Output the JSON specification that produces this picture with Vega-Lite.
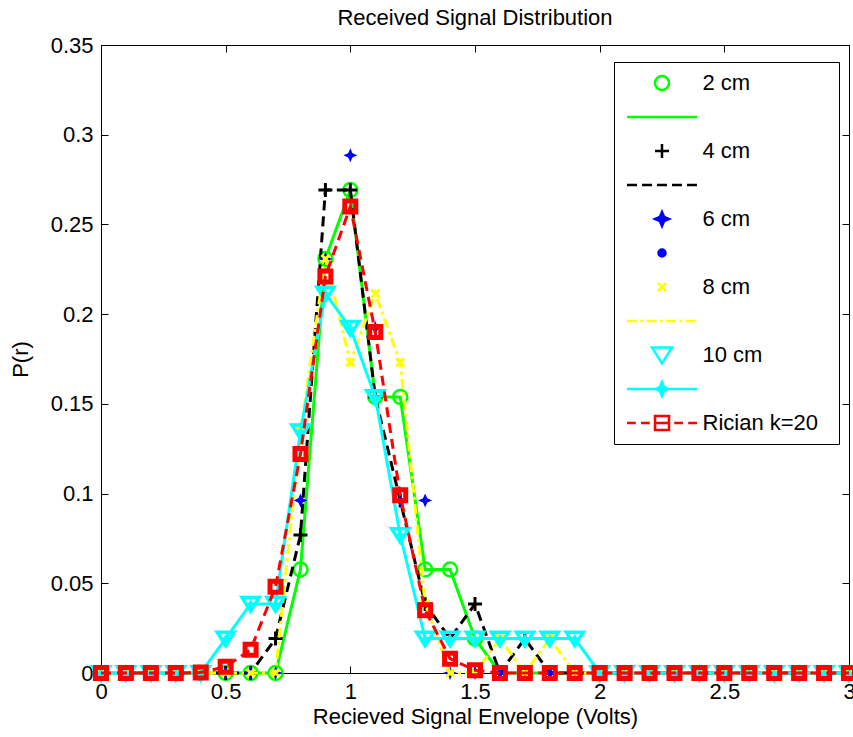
{
"$schema": "https://vega.github.io/schema/vega-lite/v6.json",
"width": 748, "height": 628,
"autosize": {"type": "none"},
"padding": {"left": 101, "top": 45, "right": 4, "bottom": 64},
"background": "white",
"title": {"text": "Received Signal Distribution", "fontSize": 22, "font": "Liberation Sans", "fontWeight": "normal", "color": "black", "offset": 4},
"config": {
  "view": {"stroke": "black", "strokeWidth": 1},
  "axis": {"grid": false, "labelFont": "Liberation Sans", "labelFontSize": 22, "labelColor": "black", "titleFont": "Liberation Sans", "titleFontSize": 22, "titleFontWeight": "normal", "titleColor": "black", "domainColor": "black", "tickColor": "black", "domainWidth": 1, "tickWidth": 1}
},
"data": {"values": [
{"s":"2 cm","x":0,"y":0},{"s":"2 cm","x":0.1,"y":0},{"s":"2 cm","x":0.2,"y":0},{"s":"2 cm","x":0.3,"y":0},{"s":"2 cm","x":0.4,"y":0},{"s":"2 cm","x":0.5,"y":0},{"s":"2 cm","x":0.6,"y":0},{"s":"2 cm","x":0.7,"y":0},{"s":"2 cm","x":0.8,"y":0.0577},{"s":"2 cm","x":0.9,"y":0.2308},{"s":"2 cm","x":1,"y":0.2692},{"s":"2 cm","x":1.1,"y":0.1538},{"s":"2 cm","x":1.2,"y":0.1538},{"s":"2 cm","x":1.3,"y":0.0577},{"s":"2 cm","x":1.4,"y":0.0577},{"s":"2 cm","x":1.5,"y":0.0192},{"s":"2 cm","x":1.6,"y":0},{"s":"2 cm","x":1.7,"y":0},{"s":"2 cm","x":1.8,"y":0},{"s":"2 cm","x":1.9,"y":0},{"s":"2 cm","x":2,"y":0},{"s":"2 cm","x":2.1,"y":0},{"s":"2 cm","x":2.2,"y":0},{"s":"2 cm","x":2.3,"y":0},{"s":"2 cm","x":2.4,"y":0},{"s":"2 cm","x":2.5,"y":0},{"s":"2 cm","x":2.6,"y":0},{"s":"2 cm","x":2.7,"y":0},{"s":"2 cm","x":2.8,"y":0},{"s":"2 cm","x":2.9,"y":0},{"s":"2 cm","x":3,"y":0},
{"s":"4 cm","x":0,"y":0},{"s":"4 cm","x":0.1,"y":0},{"s":"4 cm","x":0.2,"y":0},{"s":"4 cm","x":0.3,"y":0},{"s":"4 cm","x":0.4,"y":0},{"s":"4 cm","x":0.5,"y":0},{"s":"4 cm","x":0.6,"y":0},{"s":"4 cm","x":0.7,"y":0.0192},{"s":"4 cm","x":0.8,"y":0.0769},{"s":"4 cm","x":0.9,"y":0.2692},{"s":"4 cm","x":1,"y":0.2692},{"s":"4 cm","x":1.1,"y":0.1538},{"s":"4 cm","x":1.2,"y":0.0962},{"s":"4 cm","x":1.3,"y":0.0385},{"s":"4 cm","x":1.4,"y":0.0192},{"s":"4 cm","x":1.5,"y":0.0385},{"s":"4 cm","x":1.6,"y":0},{"s":"4 cm","x":1.7,"y":0.0192},{"s":"4 cm","x":1.8,"y":0},{"s":"4 cm","x":1.9,"y":0},{"s":"4 cm","x":2,"y":0},{"s":"4 cm","x":2.1,"y":0},{"s":"4 cm","x":2.2,"y":0},{"s":"4 cm","x":2.3,"y":0},{"s":"4 cm","x":2.4,"y":0},{"s":"4 cm","x":2.5,"y":0},{"s":"4 cm","x":2.6,"y":0},{"s":"4 cm","x":2.7,"y":0},{"s":"4 cm","x":2.8,"y":0},{"s":"4 cm","x":2.9,"y":0},{"s":"4 cm","x":3,"y":0},
{"s":"6 cm","x":0,"y":0},{"s":"6 cm","x":0.1,"y":0},{"s":"6 cm","x":0.2,"y":0},{"s":"6 cm","x":0.3,"y":0},{"s":"6 cm","x":0.4,"y":0},{"s":"6 cm","x":0.5,"y":0},{"s":"6 cm","x":0.6,"y":0},{"s":"6 cm","x":0.7,"y":0},{"s":"6 cm","x":0.8,"y":0.0962},{"s":"6 cm","x":0.9,"y":0.2308},{"s":"6 cm","x":1,"y":0.2885},{"s":"6 cm","x":1.1,"y":0.1923},{"s":"6 cm","x":1.2,"y":0.0962},{"s":"6 cm","x":1.3,"y":0.0962},{"s":"6 cm","x":1.4,"y":0},{"s":"6 cm","x":1.5,"y":0},{"s":"6 cm","x":1.6,"y":0},{"s":"6 cm","x":1.7,"y":0},{"s":"6 cm","x":1.8,"y":0},{"s":"6 cm","x":1.9,"y":0},{"s":"6 cm","x":2,"y":0},{"s":"6 cm","x":2.1,"y":0},{"s":"6 cm","x":2.2,"y":0},{"s":"6 cm","x":2.3,"y":0},{"s":"6 cm","x":2.4,"y":0},{"s":"6 cm","x":2.5,"y":0},{"s":"6 cm","x":2.6,"y":0},{"s":"6 cm","x":2.7,"y":0},{"s":"6 cm","x":2.8,"y":0},{"s":"6 cm","x":2.9,"y":0},{"s":"6 cm","x":3,"y":0},
{"s":"8 cm","x":0,"y":0},{"s":"8 cm","x":0.1,"y":0},{"s":"8 cm","x":0.2,"y":0},{"s":"8 cm","x":0.3,"y":0},{"s":"8 cm","x":0.4,"y":0},{"s":"8 cm","x":0.5,"y":0},{"s":"8 cm","x":0.6,"y":0},{"s":"8 cm","x":0.7,"y":0},{"s":"8 cm","x":0.8,"y":0.1346},{"s":"8 cm","x":0.9,"y":0.2308},{"s":"8 cm","x":1,"y":0.1731},{"s":"8 cm","x":1.1,"y":0.2115},{"s":"8 cm","x":1.2,"y":0.1731},{"s":"8 cm","x":1.3,"y":0.0385},{"s":"8 cm","x":1.4,"y":0},{"s":"8 cm","x":1.5,"y":0},{"s":"8 cm","x":1.6,"y":0.0192},{"s":"8 cm","x":1.7,"y":0},{"s":"8 cm","x":1.8,"y":0.0192},{"s":"8 cm","x":1.9,"y":0},{"s":"8 cm","x":2,"y":0},{"s":"8 cm","x":2.1,"y":0},{"s":"8 cm","x":2.2,"y":0},{"s":"8 cm","x":2.3,"y":0},{"s":"8 cm","x":2.4,"y":0},{"s":"8 cm","x":2.5,"y":0},{"s":"8 cm","x":2.6,"y":0},{"s":"8 cm","x":2.7,"y":0},{"s":"8 cm","x":2.8,"y":0},{"s":"8 cm","x":2.9,"y":0},{"s":"8 cm","x":3,"y":0},
{"s":"10 cm","x":0,"y":0},{"s":"10 cm","x":0.1,"y":0},{"s":"10 cm","x":0.2,"y":0},{"s":"10 cm","x":0.3,"y":0},{"s":"10 cm","x":0.4,"y":0},{"s":"10 cm","x":0.5,"y":0.0192},{"s":"10 cm","x":0.6,"y":0.0385},{"s":"10 cm","x":0.7,"y":0.0385},{"s":"10 cm","x":0.8,"y":0.1346},{"s":"10 cm","x":0.9,"y":0.2115},{"s":"10 cm","x":1,"y":0.1923},{"s":"10 cm","x":1.1,"y":0.1538},{"s":"10 cm","x":1.2,"y":0.0769},{"s":"10 cm","x":1.3,"y":0.0192},{"s":"10 cm","x":1.4,"y":0.0192},{"s":"10 cm","x":1.5,"y":0.0192},{"s":"10 cm","x":1.6,"y":0.0192},{"s":"10 cm","x":1.7,"y":0.0192},{"s":"10 cm","x":1.8,"y":0.0192},{"s":"10 cm","x":1.9,"y":0.0192},{"s":"10 cm","x":2,"y":0},{"s":"10 cm","x":2.1,"y":0},{"s":"10 cm","x":2.2,"y":0},{"s":"10 cm","x":2.3,"y":0},{"s":"10 cm","x":2.4,"y":0},{"s":"10 cm","x":2.5,"y":0},{"s":"10 cm","x":2.6,"y":0},{"s":"10 cm","x":2.7,"y":0},{"s":"10 cm","x":2.8,"y":0},{"s":"10 cm","x":2.9,"y":0},{"s":"10 cm","x":3,"y":0},
{"s":"Rician k=20","x":0,"y":0},{"s":"Rician k=20","x":0.1,"y":0},{"s":"Rician k=20","x":0.2,"y":0},{"s":"Rician k=20","x":0.3,"y":0},{"s":"Rician k=20","x":0.4,"y":0.0003},{"s":"Rician k=20","x":0.5,"y":0.0035},{"s":"Rician k=20","x":0.6,"y":0.013},{"s":"Rician k=20","x":0.7,"y":0.048},{"s":"Rician k=20","x":0.8,"y":0.122},{"s":"Rician k=20","x":0.9,"y":0.221},{"s":"Rician k=20","x":1,"y":0.26},{"s":"Rician k=20","x":1.1,"y":0.19},{"s":"Rician k=20","x":1.2,"y":0.099},{"s":"Rician k=20","x":1.3,"y":0.035},{"s":"Rician k=20","x":1.4,"y":0.008},{"s":"Rician k=20","x":1.5,"y":0.0015},{"s":"Rician k=20","x":1.6,"y":0},{"s":"Rician k=20","x":1.7,"y":0},{"s":"Rician k=20","x":1.8,"y":0},{"s":"Rician k=20","x":1.9,"y":0},{"s":"Rician k=20","x":2,"y":0},{"s":"Rician k=20","x":2.1,"y":0},{"s":"Rician k=20","x":2.2,"y":0},{"s":"Rician k=20","x":2.3,"y":0},{"s":"Rician k=20","x":2.4,"y":0},{"s":"Rician k=20","x":2.5,"y":0},{"s":"Rician k=20","x":2.6,"y":0},{"s":"Rician k=20","x":2.7,"y":0},{"s":"Rician k=20","x":2.8,"y":0},{"s":"Rician k=20","x":2.9,"y":0},{"s":"Rician k=20","x":3,"y":0}
]},
"encoding": {
  "x": {"field": "x", "type": "quantitative", "scale": {"domain": [0, 3], "nice": false, "zero": false}, "axis": null},
  "y": {"field": "y", "type": "quantitative", "scale": {"domain": [0, 0.35], "nice": false}, "axis": null}
},
"layer": [
  {"transform": [{"filter": "datum.s === '2 cm'"}],
   "mark": {"type": "point", "strokeWidth": 2.5, "opacity": 1},
   "encoding": {
     "x": {"field": "x", "type": "quantitative", "scale": {"domain": [0, 3], "nice": false, "zero": false},
           "axis": {"title": "Recieved Signal Envelope (Volts)", "values": [0, 0.5, 1, 1.5, 2, 2.5, 3], "format": "~g", "labelFlush": false, "tickSize": -7, "labelPadding": 15, "titlePadding": 4}},
     "y": {"field": "y", "type": "quantitative", "scale": {"domain": [0, 0.35], "nice": false},
           "axis": {"title": "P(r)", "values": [0, 0.05, 0.1, 0.15, 0.2, 0.25, 0.3, 0.35], "format": "~g", "tickSize": -7, "labelPadding": 15, "titlePadding": 18}},
     "stroke": {"field": "s", "type": "nominal",
       "scale": {"domain": ["2 cm","2 cm_l","4 cm","4 cm_l","6 cm","6 cm_l","8 cm","8 cm_l","10 cm","10 cm_l","Rician k=20"],
                 "range": ["#00ff00","#00ff00","#000000","#000000","#0000ff","#0000ff","#ffff00","#ffff00","#00ffff","#00ffff","#ff0000"]},
       "legend": {"title": null, "orient": "none", "legendX": 513, "legendY": 17, "padding": 4, "strokeColor": "black", "fillColor": "white",
                  "clipHeight": 34, "rowPadding": 0, "symbolOffset": 7.5, "labelOffset": 4, "labelFont": "Liberation Sans", "labelFontSize": 22,
                  "labelColor": "black", "labelLimit": 400, "symbolStrokeWidth": 2.5, "symbolOpacity": 1,
                  "labelExpr": "indexof(datum.value, '_l') >= 0 ? '' : datum.value + '\u2800'"}},
     "fill": {"field": "s", "type": "nominal",
       "scale": {"domain": ["2 cm","2 cm_l","4 cm","4 cm_l","6 cm","6 cm_l","8 cm","8 cm_l","10 cm","10 cm_l","Rician k=20"],
                 "range": ["transparent","transparent","transparent","transparent","#0000ff","#0000ff","transparent","transparent","transparent","#00ffff","transparent"]},
       "legend": {"title": null, "orient": "none", "legendX": 513, "legendY": 17, "padding": 4, "strokeColor": "black", "fillColor": "white",
                  "clipHeight": 34, "rowPadding": 0, "symbolOffset": 7.5, "labelOffset": 4, "labelFont": "Liberation Sans", "labelFontSize": 22,
                  "labelColor": "black", "labelLimit": 400, "symbolStrokeWidth": 2.5, "symbolOpacity": 1,
                  "labelExpr": "indexof(datum.value, '_l') >= 0 ? '' : datum.value + '\u2800'"}},
     "shape": {"field": "s", "type": "nominal",
       "scale": {"domain": ["2 cm","2 cm_l","4 cm","4 cm_l","6 cm","6 cm_l","8 cm","8 cm_l","10 cm","10 cm_l","Rician k=20"],
                 "range": ["circle", "M-1,0H1", "M-1,0H1M0,-1V1",
                           "M-1,0H-0.714M-0.571,0H-0.286M-0.143,0H0.143M0.286,0H0.571M0.714,0H1",
                           "M0,-1L0.3,-0.3L1,0L0.3,0.3L0,1L-0.3,0.3L-1,0L-0.3,-0.3Z", "circle", "M-1,-1L1,1M-1,1L1,-1",
                           "M-1,0H-0.72M-0.62,0H-0.54M-0.44,0H-0.16M-0.06,0H0.02M0.12,0H0.4M0.5,0H0.58M0.68,0H0.96",
                           "M-1,-0.75H1L0,0.85Z",
                           "M-1,0H1M0,-0.2L0.06,-0.06L0.17,0L0.06,0.06L0,0.2L-0.06,0.06L-0.17,0L-0.06,-0.06Z",
                           "M-1,0H-0.75M-0.6,0H-0.35M-0.2,-0.2H0.2V0.2H-0.2ZM-0.2,0H0.2M0.35,0H0.6M0.75,0H1"]}},
     "size": {"field": "s", "type": "nominal",
       "scale": {"type": "ordinal", "domain": ["2 cm","2 cm_l","4 cm","4 cm_l","6 cm","6 cm_l","8 cm","8 cm_l","10 cm","10 cm_l","Rician k=20"],
                 "range": [196, 4900, 196, 4900, 196, 49, 64, 4900, 400, 4900, 4900]}}
   }},
  {"transform": [{"filter": "datum.s === '2 cm'"}], "mark": {"type": "line", "color": "#00ff00", "strokeWidth": 3}, "encoding": {}},
  {"transform": [{"filter": "datum.s === '4 cm'"}], "mark": {"type": "point", "shape": "M-1,0H1M0,-1V1", "filled": false, "color": "#000000", "size": 196, "strokeWidth": 3, "opacity": 1}, "encoding": {}},
  {"transform": [{"filter": "datum.s === '4 cm'"}], "mark": {"type": "line", "color": "#000000", "strokeWidth": 3, "strokeDash": [10, 6]}, "encoding": {}},
  {"transform": [{"filter": "datum.s === '6 cm'"}], "mark": {"type": "point", "shape": "M0,-1L0.3,-0.3L1,0L0.3,0.3L0,1L-0.3,0.3L-1,0L-0.3,-0.3Z", "filled": true, "color": "#0000ff", "size": 196, "opacity": 1}, "encoding": {}},
  {"transform": [{"filter": "datum.s === '6 cm'"}], "mark": {"type": "point", "shape": "circle", "filled": true, "color": "#0000ff", "size": 30, "opacity": 1},
   "encoding": {
     "x": {"field": "x", "type": "quantitative", "scale": {"domain": [0, 3], "nice": false, "zero": false},
           "axis": {"orient": "top", "title": null, "labels": false, "domain": false, "values": [0, 0.5, 1, 1.5, 2, 2.5, 3], "tickSize": -7}},
     "y": {"field": "y", "type": "quantitative", "scale": {"domain": [0, 0.35], "nice": false},
           "axis": {"orient": "right", "title": null, "labels": false, "domain": false, "values": [0, 0.05, 0.1, 0.15, 0.2, 0.25, 0.3, 0.35], "tickSize": -7}}
   }},
  {"transform": [{"filter": "datum.s === '8 cm'"}], "mark": {"type": "point", "shape": "M-1,-1L1,1M-1,1L1,-1", "filled": false, "color": "#ffff00", "size": 64, "strokeWidth": 3, "opacity": 1}, "encoding": {}},
  {"transform": [{"filter": "datum.s === '8 cm'"}], "mark": {"type": "line", "color": "#ffff00", "strokeWidth": 3, "strokeDash": [10, 4, 3, 4]}, "encoding": {}},
  {"transform": [{"filter": "datum.s === '10 cm'"}], "mark": {"type": "point", "shape": "M-1,-0.75H1L0,0.85Z", "filled": false, "color": "#00ffff", "size": 289, "strokeWidth": 3.5, "opacity": 1}, "encoding": {}},
  {"transform": [{"filter": "datum.s === '10 cm'"}], "mark": {"type": "line", "color": "#00ffff", "strokeWidth": 3}, "encoding": {}},
  {"transform": [{"filter": "datum.s === '10 cm'"}], "mark": {"type": "point", "shape": "M0,-1L0.3,-0.3L1,0L0.3,0.3L0,1L-0.3,0.3L-1,0L-0.3,-0.3Z", "filled": true, "color": "#00ffff", "size": 121, "opacity": 1}, "encoding": {}},
  {"transform": [{"filter": "datum.s === 'Rician k=20'"}], "mark": {"type": "line", "color": "#ff0000", "strokeWidth": 3, "strokeDash": [10, 6]}, "encoding": {}},
  {"transform": [{"filter": "datum.s === 'Rician k=20'"}], "mark": {"type": "point", "shape": "M-1,-1H1V1H-1Z", "filled": false, "color": "#ff0000", "size": 121, "strokeWidth": 5, "opacity": 1}, "encoding": {}}
],
"resolve": {"axis": {"x": "independent", "y": "independent"}}
}
